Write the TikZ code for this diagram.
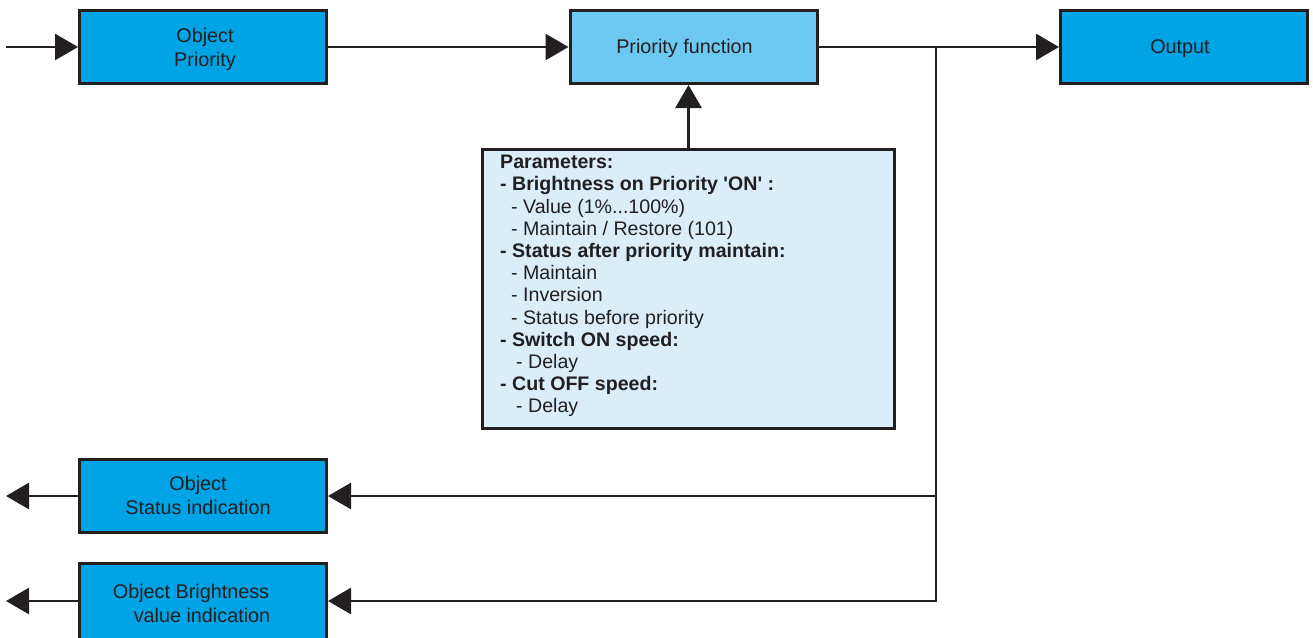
\documentclass[tikz,border=0pt]{standalone}
\usepackage{fontspec}
\setmainfont{Liberation Sans}[Ligatures=TeXOff]
\usetikzlibrary{arrows.meta}
\definecolor{ink}{HTML}{231F20}
\definecolor{boxblue}{HTML}{00A3E4}
\definecolor{pfblue}{HTML}{6DC8F2}
\definecolor{parblue}{HTML}{DAEEF9}
\tikzset{
  x=1pt, y=-1pt,
  blk/.style={draw=ink, line width=3pt, fill=boxblue, minimum width=247pt, minimum height=73pt, inner sep=0pt},
  txt/.style={inner sep=0pt, align=center, text=ink, font=\fontsize{19.8}{24}\selectfont},
  conn/.style={draw=ink, line width=2.8pt, -{Triangle[length=23pt,width=26pt]}}
}
\begin{document}
\begin{tikzpicture}
\useasboundingbox (0,0) rectangle (1313,637);
\node[blk] (obj) at (203,47) {};
\node[txt] (objt) at (205,49) {Object\\Priority};
\node[blk, fill=pfblue] (pf) at (693.5,47) {};
\node[txt] (pft) at (684.5,48.5) {Priority function};
\node[blk] (out) at (1184,47) {};
\node[txt] (outt) at (1180,48.5) {Output};
\node[draw=ink, line width=2.8pt, fill=parblue, minimum width=412pt, minimum height=279pt, inner sep=0pt] (params) at (688.5,289) {};
\node[anchor=north west, inner sep=0pt, align=left, text=ink, font=\fontsize{19.6}{22.2}\selectfont] (ptext) at (500,155)
 {\textbf{Parameters:}\\
  \textbf{- Brightness on Priority 'ON' :}\\
  \hspace*{11pt}- Value (1\%...100\%)\\
  \hspace*{11pt}- Maintain / Restore (101)\\
  \textbf{- Status after priority maintain:}\\
  \hspace*{11pt}- Maintain\\
  \hspace*{11pt}- Inversion\\
  \hspace*{11pt}- Status before priority\\
  \textbf{- Switch ON speed:}\\
  \hspace*{16pt}- Delay\\
  \textbf{- Cut OFF speed:}\\
  \hspace*{16pt}- Delay};
\node[blk] (status) at (203,496) {};
\node[txt] (statust) at (198,495) {Object\\Status indication};
\node[blk, minimum height=80pt] (bright) at (203,603) {};
\node[txt] (brightt) at (191,603) {Object Brightness\\\hspace*{22pt}value indication};
\coordinate (in) at (6,47);
\coordinate (j) at (936,47);
\coordinate (sout) at (6,496);
\coordinate (bout) at (6,601);
\draw[conn] (in) -- (obj.west);
\draw[conn] (obj.east) -- (pf.west);
\draw[conn] (pf.east) -- (out.west);
\draw[conn] (params.north) -- (params.north |- pf.south);
\draw[conn] (j) |- (bright.east |- bout);
\draw[conn] (j |- status.east) -- (status.east);
\draw[conn] (status.west) -- (sout);
\draw[conn] (bright.west |- bout) -- (bout);
\end{tikzpicture}
\end{document}
